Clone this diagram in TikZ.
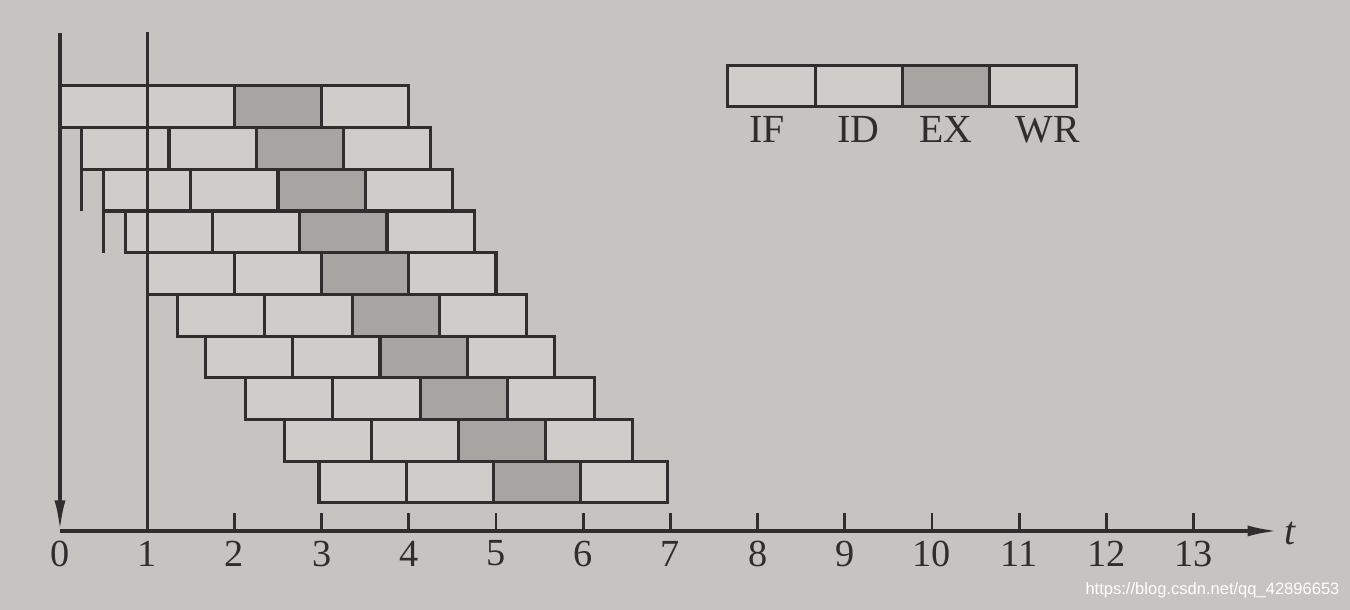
\documentclass[tikz,border=0pt]{standalone}
\usepackage{fontspec}
\setmainfont{Liberation Serif}
\newfontfamily\wmfont{Liberation Sans}
\usepackage{tikz}
\usetikzlibrary{arrows.meta, positioning, calc}
\definecolor{paper}{HTML}{C5C4C1}
\definecolor{boxfill}{HTML}{CECDCA}
\definecolor{exfill}{HTML}{A6A5A2}
\definecolor{ink}{HTML}{2E2E2E}

\begin{document}
\begin{tikzpicture}[
  stage/.style={draw=ink, fill=boxfill, line width=1pt, minimum width=1cm,
                minimum height=0.478cm, inner sep=0pt, outer sep=0pt},
  exstage/.style={stage, fill=exfill},
  axis/.style={ink, line width=1.1pt},
  tickline/.style={ink, line width=0.9pt},
  lbl/.style={font=\fontsize{12.5}{14}\selectfont, text=ink, inner sep=0pt},
  arrowtip/.style={-{Latex[length=10pt, width=3.6pt]}},
]
  % paper
  \useasboundingbox (-0.688,-0.906) rectangle (14.794,6.089);
  \fill[paper] (-0.688,-0.906) rectangle (14.794,6.089);
  % --- 10 instructions, 4 stages each; start of each row in t ---
  \def\h{0.478}\def\ytop{5.103}
  \foreach \r/\x in {1/0, 2/0.25, 3/0.5, 4/0.75, 5/1, 6/1.35, 7/1.67, 8/2.13, 9/2.57, 10/2.97}{
    \foreach \s/\sty in {1/stage, 2/stage, 3/exstage, 4/stage}{
      \node[\sty] (r\r-\s) at ({\x+\s-0.5}, {\ytop-(\r-0.5)*\h}) {};
    }
  }
  % left edges of rows 2 and 3 run one row lower
  \draw[ink, line width=1pt] (r2-1.north west) -- (r2-1.north west |- r3-1.south);
  \draw[ink, line width=1pt] (r3-1.north west) -- (r3-1.north west |- r4-1.south);
  % --- axes ---
  \coordinate (O) at (0,0);
  \coordinate (vtop) at (0,5.71);
  \coordinate (onetop) at (1,5.72);
  \coordinate (onebot) at (1,0);
  \coordinate (tend) at (13.97,0);
  \draw[axis, arrowtip] (vtop) -- (O);
  \draw[axis] (onetop) -- (onebot);
  \draw[axis, arrowtip] (O) -- (tend);
  \node[lbl, font=\fontsize{13}{15}\selectfont\itshape, anchor=west] (tlab) at ($(tend)+(0.07,-0.03)$) {t};
  \foreach \k in {2,...,13}
    \draw[tickline] (\k,0) -- (\k,0.2);
  \foreach \k in {0,...,13}
    \node[lbl] (n\k) at (\k,-0.26) {\k};
  % --- legend ---
  \node[stage] (lg1) at (8.16,\ytop) {};
  \node[stage, right=0pt of lg1] (lg2) {};
  \node[exstage, right=0pt of lg2] (lg3) {};
  \node[stage, right=0pt of lg3] (lg4) {};
  \foreach \i/\txt/\dx in {1/IF/-0.05, 2/ID/0, 3/EX/0, 4/WR/0.17}
    \node[lbl, font=\fontsize{13}{15}\selectfont, below=0.1cm of lg\i, xshift=\dx cm] (lt\i) {\txt};
  % watermark
  \node[font=\wmfont\fontsize{5.4}{6}\selectfont, text=white, anchor=east, inner sep=0pt]
    (wm) at (14.68,-0.677) {https://blog.csdn.net/qq\_42896653};
\end{tikzpicture}
\end{document}
